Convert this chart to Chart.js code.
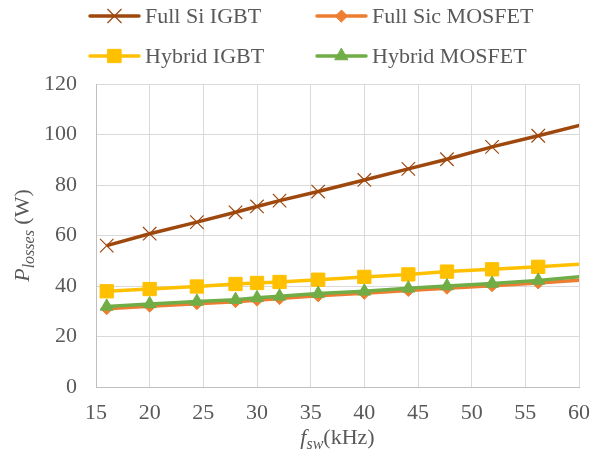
<!DOCTYPE html>
<html>
<head>
<meta charset="utf-8">
<script src="https://cdn.jsdelivr.net/npm/chart.js@4.4.0/dist/chart.umd.min.js"></script>
<style>
  html, body { margin: 0; padding: 0; background: #fff; }
  #wrap { width: 603px; height: 464px; }
</style>
</head>
<body>
<div id="wrap"><canvas id="lossChart" width="603" height="464"></canvas></div>
<script>
// switching frequency (kHz) and losses (W)
const fswKHz = [16, 20, 24.4, 28, 30, 32.1, 35.7, 40, 44.1, 47.7, 51.9, 56.2, 60.5];
const fullSiIGBT = [56.0, 60.7, 65.3, 69.2, 71.5, 73.8, 77.4, 82.0, 86.4, 90.2, 95.1, 99.5, 104.1];
const fullSicMOSFET = [31.0, 32.0, 33.0, 33.8, 34.4, 35.0, 36.1, 37.1, 38.2, 39.1, 40.1, 41.2, 42.4];
const hybridIGBT = [37.9, 38.8, 39.8, 40.8, 41.2, 41.6, 42.5, 43.6, 44.6, 45.7, 46.6, 47.6, 48.8];
const hybridMOSFET = [31.9, 32.9, 33.9, 34.6, 35.3, 35.9, 37.0, 37.9, 39.1, 40.0, 41.0, 42.2, 43.9];
const seriesNames = ['Full Si IGBT', 'Full Sic MOSFET', 'Hybrid IGBT', 'Hybrid MOSFET'];
const xTicks = [15, 20, 25, 30, 35, 40, 45, 50, 55, 60];
const yTicks = [0, 20, 40, 60, 80, 100, 120];

const X_MAX = 60;
const SERIF = "'Liberation Serif', 'Times New Roman', serif";
const TEXT = '#595959';

function toPoints(ys) {
    return fswKHz.map((x, i) => ({ x: x, y: ys[i] }));
}

function series(name, ys, color, style, radius, order, bw) {
    return {
        label: name,
        data: toPoints(ys),
        borderColor: color,
        backgroundColor: color,
        borderWidth: 3.5,
        pointStyle: style,
        markerSize: radius,
        // points past the axis end only carry the line to the edge
        pointRadius: c => (c.raw && c.raw.x > X_MAX ? 0 : radius),
        pointHoverRadius: c => (c.raw && c.raw.x > X_MAX ? 0 : radius),
        pointBorderWidth: bw,
        pointBackgroundColor: color,
        pointBorderColor: color,
        order: order,
        clip: 0,
        tension: 0
    };
}

// legend in two rows of two, line sample with marker in the middle
const legendPlugin = {
    id: 'seriesLegend',
    afterDraw(chart) {
        const ctx = chart.ctx;
        const cols = [89, 316];
        const rows = [16, 56];
        ctx.save();
        chart.data.datasets.forEach((ds, i) => {
            const x0 = cols[i % 2];
            const y = rows[Math.floor(i / 2)];
            ctx.strokeStyle = ds.borderColor;
            ctx.lineWidth = 3.5;
            ctx.lineCap = 'round';
            ctx.beginPath();
            ctx.moveTo(x0 + 1, y);
            ctx.lineTo(x0 + 50, y);
            ctx.stroke();
            ctx.fillStyle = ds.pointBackgroundColor;
            ctx.strokeStyle = ds.pointBorderColor;
            ctx.lineWidth = ds.pointBorderWidth;
            Chart.helpers.drawPoint(ctx, {
                pointStyle: ds.pointStyle,
                radius: ds.markerSize,
                rotation: 0,
                borderWidth: ds.pointBorderWidth
            }, x0 + 25.5, y);
            ctx.fillStyle = TEXT;
            ctx.font = '22px ' + SERIF;
            ctx.textBaseline = 'middle';
            ctx.textAlign = 'left';
            ctx.fillText(ds.label, x0 + 56, y + 1);
        });
        ctx.restore();
    }
};

// axis titles with italic subscripts
const titlePlugin = {
    id: 'richTitles',
    afterDraw(chart) {
        const ctx = chart.ctx;
        const area = chart.chartArea;
        ctx.save();
        ctx.fillStyle = TEXT;
        ctx.textBaseline = 'alphabetic';
        ctx.textAlign = 'left';

        const drawRuns = (runs, startX, baseY) => {
            let x = startX;
            runs.forEach(r => {
                ctx.font = r.font;
                ctx.fillText(r.text, x, baseY + r.dy);
                x += ctx.measureText(r.text).width;
            });
        };
        const widthOf = runs => runs.reduce((w, r) => {
            ctx.font = r.font;
            return w + ctx.measureText(r.text).width;
        }, 0);

        const xRuns = [
            { text: 'f', font: 'italic 22px ' + SERIF, dy: 0 },
            { text: 'sw', font: 'italic 16px ' + SERIF, dy: 5 },
            { text: '(kHz)', font: '22px ' + SERIF, dy: 0 }
        ];
        const xw = widthOf(xRuns);
        drawRuns(xRuns, (area.left + area.right) / 2 - xw / 2, 444);

        const yRuns = [
            { text: 'P', font: 'italic 22px ' + SERIF, dy: 0 },
            { text: 'losses', font: 'italic 16px ' + SERIF, dy: 5 },
            { text: ' (W)', font: '22px ' + SERIF, dy: 0 }
        ];
        const yw = widthOf(yRuns);
        ctx.translate(28.5, (area.top + area.bottom) / 2);
        ctx.rotate(-Math.PI / 2);
        drawRuns(yRuns, -yw / 2, 0);
        ctx.restore();
    }
};

const ctx = document.getElementById('lossChart');
const chart = new Chart(ctx, {
    type: 'line',
    data: {
        datasets: [
            series(seriesNames[0], fullSiIGBT, '#9E480E', 'crossRot', 9.5, 3, 1.2),
            series(seriesNames[1], fullSicMOSFET, '#ED7D31', 'rectRot', 6, 2, 1),
            series(seriesNames[2], hybridIGBT, '#FFC000', 'rect', 9.4, 1, 1),
            series(seriesNames[3], hybridMOSFET, '#70AD47', 'triangle', 7.5, 0, 1)
        ]
    },
    options: {
        responsive: false,
        animation: false,
        devicePixelRatio: 1,
        layout: { padding: { top: 84, right: 23, left: 0, bottom: 0 } },
        plugins: {
            legend: { display: false },
            tooltip: { enabled: false }
        },
        scales: {
            x: {
                type: 'linear',
                min: 15,
                max: X_MAX,
                afterBuildTicks: scale => { scale.ticks = xTicks.map(v => ({ value: v })); },
                afterFit: scale => { scale.height = 77; },
                grid: { color: '#d9d9d9', lineWidth: 1, drawTicks: false },
                border: { color: '#bfbfbf', width: 1 },
                ticks: { color: TEXT, padding: 13, font: { family: SERIF, size: 22 } }
            },
            y: {
                min: 0,
                max: 120,
                afterBuildTicks: scale => { scale.ticks = yTicks.map(v => ({ value: v })); },
                afterFit: scale => { scale.width = 96; },
                grid: { color: '#d9d9d9', lineWidth: 1, drawTicks: false },
                border: { color: '#bfbfbf', width: 1 },
                ticks: { color: TEXT, padding: 19, font: { family: SERIF, size: 22 } }
            }
        }
    },
    plugins: [legendPlugin, titlePlugin]
});
</script>
</body>
</html>
